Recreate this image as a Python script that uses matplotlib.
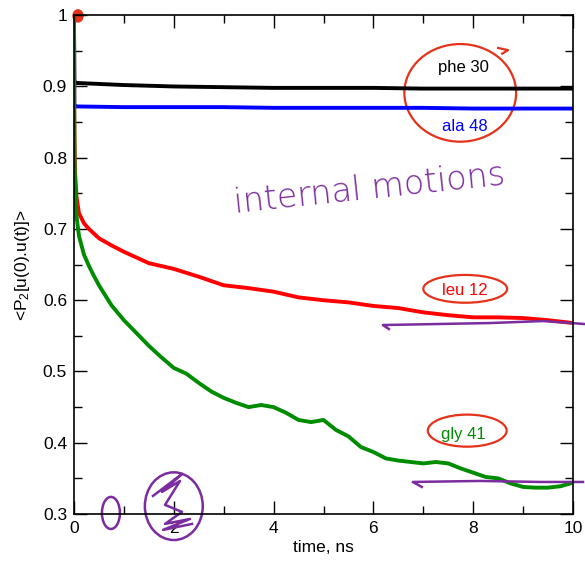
import matplotlib
matplotlib.use("Agg")
import matplotlib.pyplot as plt
from matplotlib.patches import Ellipse

plt.rcParams['font.family'] = ['Liberation Sans', 'DejaVu Sans']
plt.rcParams['mathtext.default'] = 'regular'

# (time in ns, <P2> values)
phe_t = [0, 0.005, 0.02, 1, 2, 3, 4, 5, 6, 7, 8, 9, 10]
phe_v = [1.0, 0.91, 0.905, 0.902, 0.900, 0.899, 0.898, 0.898, 0.898, 0.897, 0.897, 0.897, 0.897]

ala_t = [0, 0.005, 0.02, 1, 2, 3, 4, 5, 6, 7, 8, 9, 10]
ala_v = [1.0, 0.875, 0.872, 0.871, 0.871, 0.871, 0.870, 0.870, 0.870, 0.870, 0.869, 0.869, 0.869]

leu_t = [0, 0.005, 0.01, 0.02, 0.05, 0.1, 0.2, 0.3, 0.5, 0.75, 1, 1.25, 1.5, 2, 2.5,
         3, 3.5, 4, 4.5, 5, 5.5, 6, 6.5, 7, 7.5, 8, 8.5, 9, 9.5, 10]
leu_v = [1.0, 0.87, 0.82, 0.78, 0.745, 0.722, 0.708, 0.700, 0.687, 0.677, 0.668, 0.660, 0.652, 0.644, 0.633,
         0.621, 0.617, 0.612, 0.604, 0.600, 0.597, 0.592, 0.589, 0.583, 0.579, 0.576, 0.576, 0.575, 0.572, 0.568]

gly_t = [0, 0.005, 0.01, 0.02, 0.05, 0.1, 0.2, 0.3, 0.4, 0.5, 0.75, 1, 1.25, 1.5, 1.75,
         2, 2.25, 2.5, 2.75, 3, 3.25, 3.5, 3.75, 4, 4.25, 4.5, 4.75, 5, 5.25, 5.5, 5.75,
         6, 6.25, 6.5, 6.75, 7, 7.25, 7.5, 7.75, 8, 8.25, 8.5, 8.75, 9, 9.25, 9.5, 9.75, 10]
gly_v = [1.0, 0.86, 0.80, 0.77, 0.718, 0.690, 0.664, 0.648, 0.634, 0.621, 0.593, 0.572, 0.554, 0.536, 0.520,
         0.505, 0.497, 0.484, 0.472, 0.463, 0.456, 0.450, 0.453, 0.450, 0.442, 0.432, 0.429, 0.432, 0.418, 0.409, 0.394,
         0.387, 0.378, 0.375, 0.373, 0.371, 0.373, 0.371, 0.364, 0.358, 0.352, 0.350, 0.343, 0.338, 0.337, 0.337, 0.339, 0.344]

labels = ['phe 30', 'ala 48', 'leu 12', 'gly 41']
colors = ['black', 'blue', 'red', '#008c00']
series = [(phe_t, phe_v), (ala_t, ala_v), (leu_t, leu_v), (gly_t, gly_v)]
label_pos = [(7.8, 0.927), (7.84, 0.844), (7.84, 0.614), (7.8, 0.411)]

yticks = [0.3, 0.4, 0.5, 0.6, 0.7, 0.8, 0.9, 1.0]
ytick_labels = ['0.3', '0.4', '0.5', '0.6', '0.7', '0.8', '0.9', '1']
xticks = [0, 2, 4, 6, 8, 10]

ink_red = '#e5321b'
ink_purple = '#7b2c9e'

fig = plt.figure(figsize=(5.85, 5.63), dpi=100)
ax = fig.add_axes([0.1265, 0.087, 0.853, 0.886])

for (t, v), c in zip(series, colors):
    ax.plot(t, v, color=c, lw=2.8, solid_joinstyle='round')

for lab, c, (x, y) in zip(labels, colors, label_pos):
    ax.text(x, y, lab, color=c, fontsize=12, ha='center', va='center')

ax.set_xlim(0, 10)
ax.set_ylim(0.3, 1.0)
ax.set_xticks(xticks)
ax.set_xticks(range(0, 11), minor=True)
ax.set_yticks(yticks)
ax.set_yticklabels(ytick_labels)
ax.set_yticks([0.35, 0.45, 0.55, 0.65, 0.75, 0.85, 0.95], minor=True)
ax.tick_params(which='both', direction='in', top=True, right=True, labelsize=12.5, width=1, pad=5)
ax.tick_params(which='major', length=9.5)
ax.tick_params(which='minor', length=5.5)
for s in ax.spines.values():
    s.set_linewidth(1.2)
ax.set_xlabel('time, ns', fontsize=12.5, labelpad=3)
ax.set_ylabel('<P$_2$[u(0).u(t)]>', fontsize=12.5, labelpad=8)

# hand-drawn annotations on top of the figure
ax.add_patch(Ellipse((7.74, 0.891), 2.24, 0.137, fill=False, ec=ink_red, lw=1.6, clip_on=False))
ax.plot([8.5, 8.7, 8.58], [0.954, 0.951, 0.946], color=ink_red, lw=1.6, clip_on=False)
ax.add_patch(Ellipse((7.84, 0.616), 1.68, 0.039, fill=False, ec=ink_red, lw=1.6, clip_on=False))
ax.add_patch(Ellipse((7.88, 0.417), 1.58, 0.045, fill=False, ec=ink_red, lw=1.6, clip_on=False))
ax.add_patch(Ellipse((0.08, 0.999), 0.2, 0.017, fc=ink_red, ec=ink_red, clip_on=False))

ax.text(5.93, 0.755, 'internal motions', color=ink_purple, fontsize=24, rotation=6,
        ha='center', va='center', family='DejaVu Sans', fontweight='light')
ax.plot([6.31, 6.19, 8.34, 9.40, 10.24], [0.5596, 0.5652, 0.568, 0.5708, 0.5666],
        color=ink_purple, lw=1.8, clip_on=False)
ax.plot([6.97, 6.79, 8.14, 9.34, 10.2], [0.338, 0.345, 0.3464, 0.345, 0.345],
        color=ink_purple, lw=1.8, clip_on=False)
ax.add_patch(Ellipse((0.74, 0.3015), 0.36, 0.045, fill=False, ec=ink_purple, lw=1.8, clip_on=False))
ax.add_patch(Ellipse((2.0, 0.311), 1.16, 0.095, fill=False, ec=ink_purple, lw=1.8, clip_on=False))
ax.plot([1.583, 2.164, 1.764, 2.124, 1.824, 2.164, 1.824, 2.325, 1.784, 2.365],
        [0.3254, 0.3562, 0.331, 0.3464, 0.3128, 0.303, 0.2861, 0.2931, 0.2777, 0.2861],
        color=ink_purple, lw=1.8, clip_on=False)

fig.savefig('out.png', dpi=100)
